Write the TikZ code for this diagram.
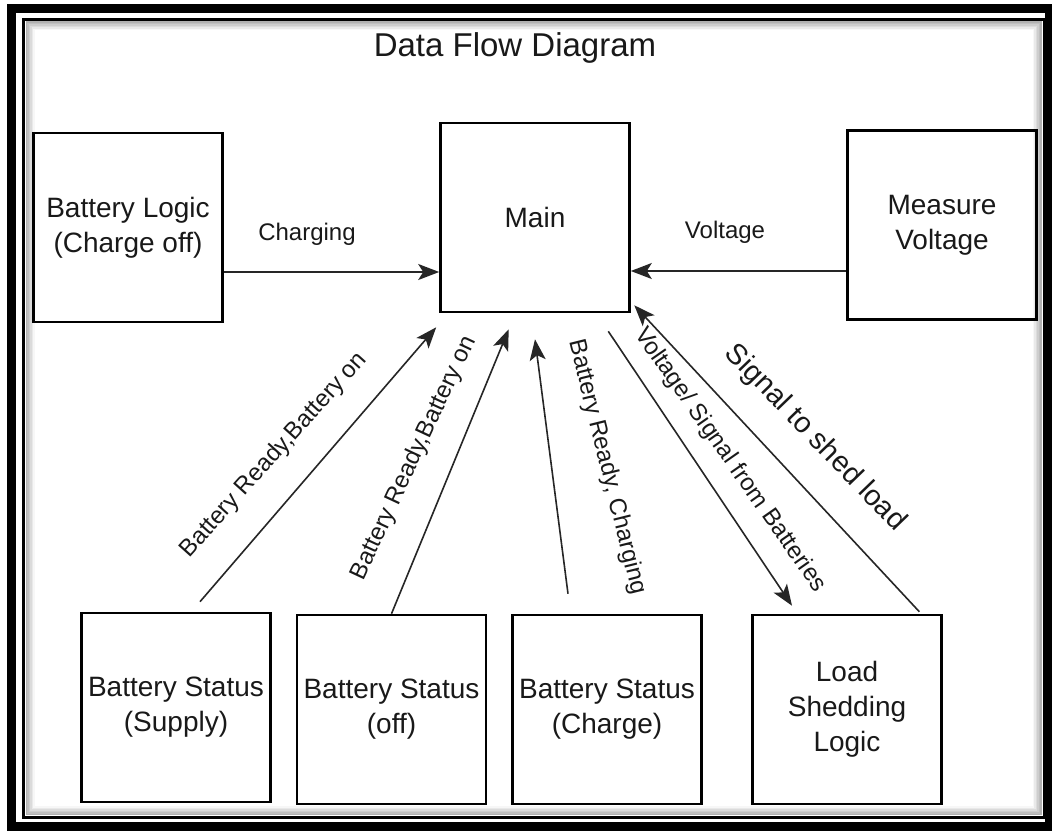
\documentclass[tikz,border=0pt]{standalone}
\usepackage{fontspec}
\setmainfont{Liberation Sans}
\usetikzlibrary{arrows.meta,calc}
\begin{document}
\begin{tikzpicture}[x=1pt,y=-1pt,
  box/.style={draw=black, line width=2.6pt, minimum width=189pt, minimum height=189pt,
    inner sep=0pt, align=center, text=black!90, font=\fontsize{28}{35}\selectfont},
  flow/.style={draw=black!85, line width=1.6pt,
    -{Stealth[length=21pt,width=16pt,inset=5pt]}},
  lbl/.style={inner sep=0pt, text=black!90, font=\fontsize{24}{28}\selectfont},
  biglbl/.style={lbl, font=\fontsize{29}{34}\selectfont},
  heading/.style={inner sep=0pt, text=black!90, font=\fontsize{33}{40}\selectfont},
]
% page and frame
\fill[white] (0,0) rectangle (1052,830);
\useasboundingbox (0,0) rectangle (1052,830);
\draw[line width=9pt] (11.5,8) rectangle (1049.5,826.5);
\draw[line width=3pt] (23.5,19) rectangle (1044,817.5);
\foreach \i in {1,...,6}{
  \draw[black, opacity={0.36-0.055*\i}, line width=1.5pt]
    ({25+1.5*\i},{20.5+1.5*\i}) rectangle ({1042.5-1.5*\i},{816-1.5*\i});
}

% title
\node[heading] (title) at (515,48) {Data Flow Diagram};

% processes
\node[box] (logic) at (128,227.5) {Battery Logic\\(Charge off)};
\node[box] (main)  at (535,217.5) {Main};
\node[box] (meas)  at (942,225)   {Measure\\Voltage};
\node[box] (sup)   at (176,707.5) {Battery Status\\(Supply)};
\node[box] (off)   at (391.5,709.5) {Battery Status\\(off)};
\node[box] (chg)   at (607,709.5) {Battery Status\\(Charge)};
\node[box] (load)  at (847,709.5) {Load\\Shedding\\Logic};

% levels of the two horizontal flows
\coordinate (hin) at (0,272);
\coordinate (vin) at (0,271);

% flows
\draw[flow] (logic.east |- hin) -- (main.west |- hin);
\draw[flow] (meas.west |- vin) -- (main.east |- vin);
\draw[flow] ($(sup.north)+(24,-10)$) -- ($(main.south west)+(-3,14)$);
\draw[flow] (off.north) -- ($(main.south west)+(69.5,16)$);
\draw[flow] ($(chg.north)+(-39,-20)$) -- ($(main.south)+(0,26)$);
\draw[flow] ($(main.south east)+(-22.5,18)$) -- ($(load.north)+(-55,-8)$);
\draw[flow] ($(load.north east)+(-23.5,-2)$) -- ($(main.south east)+(3.5,-8)$);

% flow labels
\node[lbl] (lcharging) at (307,234) {Charging};
\node[lbl] (lvoltage)  at (725,232) {Voltage};
\node[lbl, rotate=48]  (lsup)  at (274,455) {Battery Ready,Battery on};
\node[lbl, rotate=65]  (loff)  at (414,458) {Battery Ready,Battery on};
\node[lbl, rotate=-76] (lchg)  at (607,467) {Battery Ready, Charging};
\node[lbl, rotate=-55] (lsig)  at (730,460) {Voltage/ Signal from Batteries};
\node[biglbl, rotate=-46] (lshed) at (815,438) {Signal to shed load};
\end{tikzpicture}
\end{document}
